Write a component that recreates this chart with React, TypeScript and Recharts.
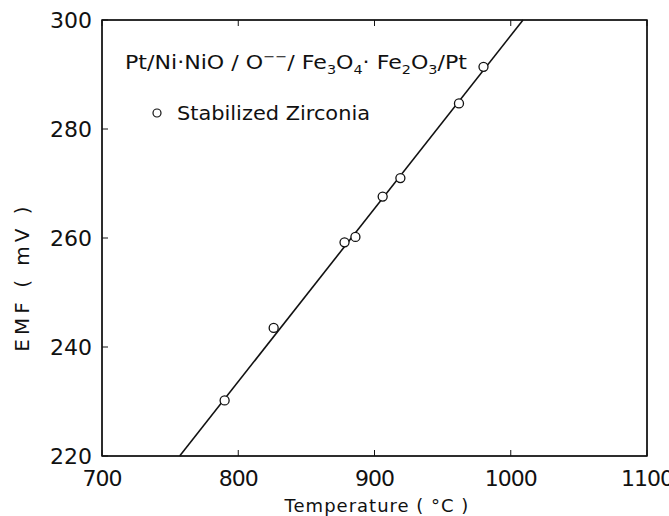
import React from "react"
import { ScatterChart, Scatter, XAxis, YAxis, ZAxis } from "recharts"

// measured cell data: temperature (°C) vs EMF (mV)
const tempC = [790, 826, 878, 886, 906, 919, 962, 980]
const emfMv = [230.2, 243.5, 259.2, 260.2, 267.6, 271.0, 284.7, 291.4]

// end points of the fitted straight line
const fitTemp = [757, 1009]
const fitEmf = [220, 300]

const xTicks = [700, 800, 900, 1000, 1100]
const yTicks = [220, 240, 260, 280, 300]

const SERIES_NAME = "Stabilized Zirconia"

const INK = "#111"
const FONT = "'DejaVu Sans', sans-serif"

const points = tempC.map((t, i) => ({ t, e: emfMv[i] }))
const fit = fitTemp.map((t, i) => ({ t, e: fitEmf[i] }))
const xDomain = [xTicks[0], xTicks[xTicks.length - 1]]
const yDomain = [yTicks[0], yTicks[yTicks.length - 1]]

const labelStyle = { fontSize: 22, fill: INK, fontFamily: FONT }

export default function App() {
  return (
    <div style={{ position: "absolute", left: 0, top: 0, width: 669, height: 516, background: "#fff" }}>
      <ScatterChart width={669} height={516} margin={{ top: 0, right: 0, bottom: 0, left: 0 }}>
        <ZAxis range={[64, 64]} />
        <XAxis
          type="number"
          dataKey="t"
          domain={xDomain}
          ticks={xTicks}
          height={60}
          tickSize={-6}
          tickMargin={20}
          tick={{ ...labelStyle, letterSpacing: -1 }}
          stroke={INK}
        />
        <XAxis
          xAxisId="top"
          orientation="top"
          type="number"
          dataKey="t"
          domain={xDomain}
          ticks={xTicks}
          height={20}
          tickSize={-6}
          tickFormatter={() => ""}
          stroke={INK}
        />
        <YAxis
          type="number"
          dataKey="e"
          domain={yDomain}
          ticks={yTicks}
          width={102}
          tickSize={-6}
          tickMargin={16}
          tick={labelStyle}
          stroke={INK}
        />
        <YAxis
          yAxisId="right"
          orientation="right"
          type="number"
          dataKey="e"
          domain={yDomain}
          width={22}
          tick={false}
          stroke={INK}
        />
        {/* fitted line, bound to the top/right frame axes (same domains) */}
        <Scatter
          name="fit"
          data={fit}
          xAxisId="top"
          yAxisId="right"
          legendType="none"
          fill="none"
          line={{ stroke: INK, strokeWidth: 1.6 }}
          isAnimationActive={false}
        />
        <Scatter
          name={SERIES_NAME}
          data={points}
          fill="#fff"
          stroke={INK}
          strokeWidth={1.3}
          isAnimationActive={false}
        />
      </ScatterChart>

      {/* frame outline, cell description, legend entry and axis titles */}
      <svg width={669} height={516} style={{ position: "absolute", left: 0, top: 0, pointerEvents: "none" }}>
        <rect x={102} y={20} width={545} height={436} fill="none" stroke={INK} strokeWidth={1.5} />
        <text x={125} y={69} fontSize={20} fontFamily={FONT} fill={INK} textLength={342} lengthAdjust="spacingAndGlyphs">
          Pt/Ni·NiO / O
          <tspan dy={-8} fontSize={13}>−−</tspan>
          <tspan dy={8}>/ Fe</tspan>
          <tspan dy={5} fontSize={13}>3</tspan>
          <tspan dy={-5}>O</tspan>
          <tspan dy={5} fontSize={13}>4</tspan>
          <tspan dy={-5}>· Fe</tspan>
          <tspan dy={5} fontSize={13}>2</tspan>
          <tspan dy={-5}>O</tspan>
          <tspan dy={5} fontSize={13}>3</tspan>
          <tspan dy={-5}>/Pt</tspan>
        </text>
        <circle cx={157} cy={113} r={4} fill="#fff" stroke={INK} strokeWidth={1.2} />
        <text x={177} y={120} fontSize={20} fontFamily={FONT} fill={INK} textLength={193} lengthAdjust="spacingAndGlyphs">
          {SERIES_NAME}
        </text>
        <text
          x={22}
          y={277}
          transform="rotate(-90, 22, 277)"
          textAnchor="middle"
          dominantBaseline="central"
          fontSize={20}
          fontFamily={FONT}
          fill={INK}
          letterSpacing={4}
        >
          EMF ( mV )
        </text>
        <text x={377} y={512} textAnchor="middle" fontSize={18} fontFamily={FONT} fill={INK} letterSpacing={1}>
          Temperature ( °C )
        </text>
      </svg>
    </div>
  )
}
